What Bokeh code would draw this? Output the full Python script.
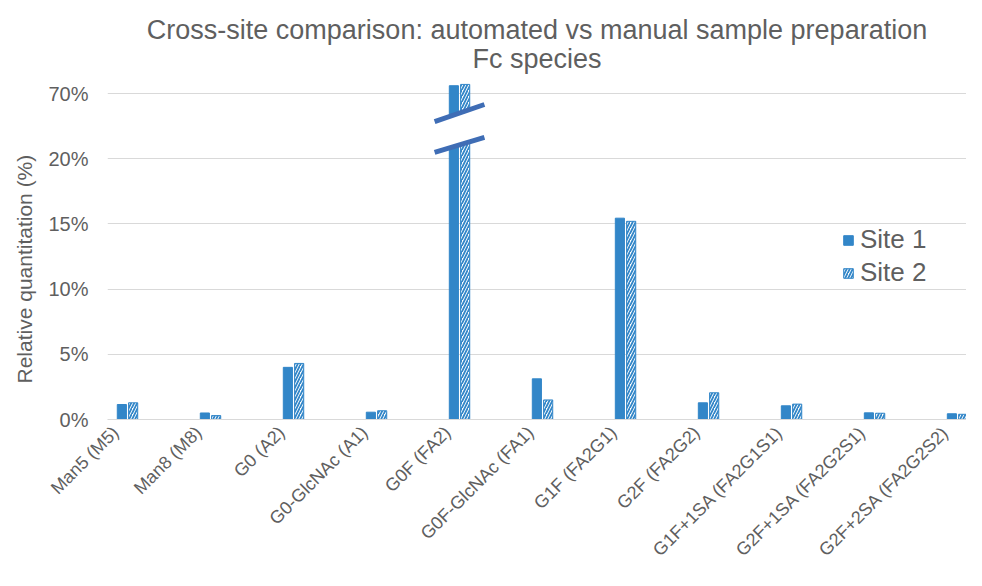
from bokeh.plotting import figure
from bokeh.models import (ColumnDataSource, Range1d, FixedTicker, Legend, LegendItem, Title)
from bokeh.embed import file_html
from bokeh.resources import INLINE
import math

# ---- data ----
categories = ["Man5 (M5)", "Man8 (M8)", "G0 (A2)", "G0-GlcNAc (A1)", "G0F (FA2)",
              "G0F-GlcNAc (FA1)", "G1F (FA2G1)", "G2F (FA2G2)", "G1F+1SA (FA2G1S1)",
              "G2F+1SA (FA2G2S1)", "G2F+2SA (FA2G2S2)"]
site1 = [1.15, 0.50, 4.00, 0.56, 70.6, 3.12, 15.44, 1.28, 1.05, 0.51, 0.44]
site2 = [1.28, 0.30, 4.30, 0.67, 70.7, 1.50, 15.20, 2.05, 1.18, 0.48, 0.40]
tick_values = [0, 5, 10, 15, 20, 70]
tick_labels = ["0%", "5%", "10%", "15%", "20%", "70%"]
title_line1 = "Cross-site comparison: automated vs manual sample preparation"
title_line2 = "Fc species"
y_title = "Relative quantitation (%)"

# broken axis: values above 20% are shifted so that 70% sits one step above 20%
BREAK_LOW, BREAK_HIGH, STEP = 20, 70, 5
def to_display(v):
    return v if v <= BREAK_LOW else v - (BREAK_HIGH - BREAK_LOW - STEP)

x = list(range(len(categories)))
off = 0.068
bw = 0.11
src = ColumnDataSource(dict(
    x1=[i - off for i in x], x2=[i + off for i in x],
    s1=[to_display(v) for v in site1], s2=[to_display(v) for v in site2]))

BLUE = "#3286C8"
GRAY = "#5f5f5f"
GRID = "#D9D9D9"
FONT = "Liberation Sans"

p = figure(width=966, height=570, output_backend="svg", toolbar_location=None, title=None,
           x_range=Range1d(-0.241, 10.108), y_range=Range1d(0, 26),
           min_border_left=107, min_border_right=0, min_border_top=80,
           min_border_bottom=151)
p.outline_line_color = None
p.background_fill_color = "white"
p.border_fill_color = "white"

r1 = p.vbar(x="x1", top="s1", width=bw, source=src, fill_color=BLUE, line_color=BLUE)
r2 = p.vbar(x="x2", top="s2", width=bw, source=src, fill_color="white", line_color=BLUE,
            line_width=1, hatch_pattern="/", hatch_color=BLUE, hatch_weight=1.8,
            hatch_scale=6)

# axis break marker on G0F (FA2)
bi = categories.index("G0F (FA2)")
hw = 0.30
lo_l, lo_r = 20.48, 21.63
up_l, up_r = 22.85, 24.16
p.patch([bi - hw, bi + hw, bi + hw, bi - hw], [lo_l + 0.15, lo_r + 0.15, up_r - 0.15, up_l - 0.15],
        fill_color="white", line_color="white")
p.segment(x0=[bi - hw, bi - hw], y0=[lo_l, up_l], x1=[bi + hw, bi + hw], y1=[lo_r, up_r],
          line_color="#3F6DB5", line_width=5)

# y axis
disp_ticks = [to_display(v) for v in tick_values]
p.yaxis.ticker = FixedTicker(ticks=disp_ticks)
p.yaxis.major_label_overrides = {t: l for t, l in zip(disp_ticks, tick_labels)}
p.yaxis.axis_line_color = None
p.yaxis.major_tick_line_color = None
p.yaxis.minor_tick_line_color = None
p.yaxis.major_label_text_font = FONT
p.yaxis.major_label_text_font_size = "20px"
p.yaxis.major_label_text_color = GRAY
p.yaxis.major_label_standoff = 13
p.add_layout(Title(text=y_title, align="left", offset=36, standoff=20, text_font=FONT,
                   text_font_size="21px", text_font_style="normal", text_color=GRAY), "left")

# x axis: category labels rotated 45 degrees, anchors nudged left of each group
lab_shift = 0.145
xt = [i - lab_shift for i in x]
p.xaxis.ticker = FixedTicker(ticks=xt)
p.xaxis.major_label_overrides = {t: c for t, c in zip(xt, categories)}
p.xaxis.major_label_orientation = math.pi / 4
p.xaxis.axis_line_color = GRID
p.xaxis.major_tick_line_color = None
p.xaxis.minor_tick_line_color = None
p.xaxis.major_label_text_font = FONT
p.xaxis.major_label_text_font_size = "18px"
p.xaxis.major_label_text_color = GRAY
p.xaxis.major_label_standoff = 4

p.xgrid.grid_line_color = None
p.ygrid.grid_line_color = GRID
p.ygrid.grid_line_width = 1

p.add_layout(Title(text=title_line2, align="center", text_font=FONT, text_font_size="27px",
                   text_font_style="normal", text_color=GRAY, standoff=13), "above")
p.add_layout(Title(text=title_line1, align="center", text_font=FONT, text_font_size="27px",
                   text_font_style="normal", text_color=GRAY, standoff=-18), "above")
p.add_layout(Title(text=" ", align="center", text_font=FONT, text_font_size="1px",
                   standoff=0), "above")

legend = Legend(items=[LegendItem(label="Site 1", renderers=[r1]),
                       LegendItem(label="Site 2", renderers=[r2])],
                location=(735, 131), border_line_color=None, background_fill_alpha=0,
                label_text_font=FONT, label_text_font_size="26px", label_text_color=GRAY,
                glyph_width=12, glyph_height=12, padding=0, margin=0, spacing=2,
                label_standoff=6)
p.add_layout(legend, "center")

open("out.html", "w").write(file_html(p, INLINE))
